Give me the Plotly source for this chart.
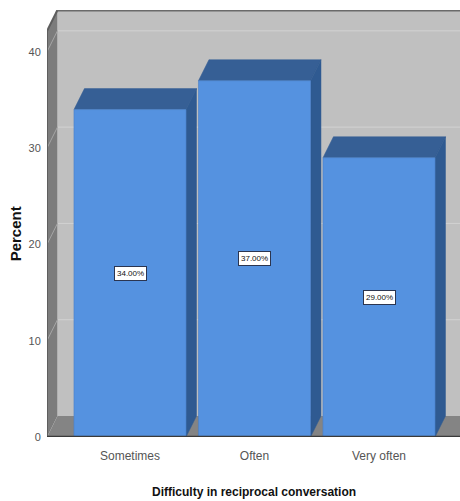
import plotly.graph_objects as go

# ---- data -------------------------------------------------------------
categories = ["Sometimes", "Often", "Very often"]
percent = [34.0, 37.0, 29.0]
y_ticks = [0, 10, 20, 30, 40]

x_title = "Difficulty in reciprocal conversation"
y_title = "Percent"

# ---- 3-D box geometry (data units) -----------------------------------
BAR_W = 0.9          # bar width on the category axis
DX = 0.084           # depth shift along x
DY = 2.18            # depth shift along y
WALL_TOP = 42.16     # top of the left wall at the front edge
X0, X1 = -0.6667, 2.6506
Y1 = WALL_TOP + DY

# ---- colours ----------------------------------------------------------
FRONT = "#5592e0"
SIDE = "#2f5a91"
TOP = "#365f95"
BACK_WALL = "#c0c0c0"
LEFT_WALL = "#7c7c7c"
FLOOR = "#848484"
GRID = "#d2d2d2"
NARROW = "Liberation Sans Narrow, Arial Narrow, Liberation Sans, Arial"


def poly(points):
    return "M " + " L ".join(f"{x},{y}" for x, y in points) + " Z"


shapes = []
# back wall
shapes.append(dict(type="rect", x0=X0 + DX, x1=X1, y0=DY, y1=Y1,
                   fillcolor=BACK_WALL, line=dict(width=0), layer="below"))
# back-wall grid lines
for v in y_ticks[1:]:
    shapes.append(dict(type="line", x0=X0 + DX, x1=X1, y0=v + DY, y1=v + DY,
                       line=dict(color=GRID, width=1), layer="below"))
# left wall with its diagonal grid lines
shapes.append(dict(type="path",
                   path=poly([(X0, 0), (X0 + DX, DY), (X0 + DX, Y1), (X0, WALL_TOP)]),
                   fillcolor=LEFT_WALL, line=dict(width=0), layer="below"))
for v in y_ticks[1:]:
    shapes.append(dict(type="line", x0=X0, x1=X0 + DX, y0=v, y1=v + DY,
                       line=dict(color="#a6a6a6", width=1), layer="below"))
# left wall front edge and top edges
shapes.append(dict(type="line", x0=X0, x1=X0, y0=0, y1=WALL_TOP,
                   line=dict(color="#5e5e5e", width=2), layer="below"))
shapes.append(dict(type="line", x0=X0, x1=X0 + DX, y0=WALL_TOP, y1=Y1,
                   line=dict(color="#5e5e5e", width=2), layer="below"))
shapes.append(dict(type="line", x0=X0 + DX, x1=X1, y0=Y1, y1=Y1,
                   line=dict(color="#6a6a6a", width=3), layer="below"))
# floor
shapes.append(dict(type="path",
                   path=poly([(X0, 0), (X1, 0), (X1, DY), (X0 + DX, DY)]),
                   fillcolor=FLOOR, line=dict(width=0), layer="below"))

# top and side faces of each bar
for i, v in enumerate(percent):
    xl, xr = i - BAR_W / 2, i + BAR_W / 2
    shapes.append(dict(type="path",
                       path=poly([(xl, v), (xr, v), (xr + DX, v + DY), (xl + DX, v + DY)]),
                       fillcolor=TOP, line=dict(color=TOP, width=0.5), layer="below"))
    shapes.append(dict(type="path",
                       path=poly([(xr, 0), (xr + DX, DY), (xr + DX, v + DY), (xr, v)]),
                       fillcolor=SIDE, line=dict(color=SIDE, width=0.5), layer="below"))

# front floor edge
shapes.append(dict(type="line", x0=X0, x1=X1, y0=0, y1=0,
                   line=dict(color="#3a3a3a", width=2.5), layer="above"))

fig = go.Figure()
fig.add_trace(go.Bar(
    x=list(range(len(categories))), y=percent, width=BAR_W,
    marker=dict(color=FRONT, line=dict(color="#4a80c8", width=0.6)),
    hoverinfo="skip", showlegend=False,
))

annotations = []
for i, v in enumerate(percent):
    annotations.append(dict(
        x=i, y=v / 2, xref="x", yref="y", text=f"{v:.2f}%", showarrow=False,
        font=dict(family=NARROW, size=8, color="#111111"),
        bgcolor="white", bordercolor="#2b3550", borderwidth=1, borderpad=2,
    ))
annotations.append(dict(
    x=-0.076, y=0.476, xref="paper", yref="paper", text=f"<b>{y_title}</b>",
    textangle=-90, showarrow=False, xanchor="center", yanchor="middle",
    font=dict(family="Liberation Sans, Arial", size=15, color="#111111"),
))
annotations.append(dict(
    x=0.501, y=-0.1288, xref="paper", yref="paper", text=f"<b>{x_title}</b>",
    showarrow=False, xanchor="center", yanchor="middle",
    font=dict(family=NARROW, size=12, color="#111111"),
))

fig.update_layout(
    width=460, height=501,
    margin=dict(l=47, r=0, t=10, b=64, pad=0),
    paper_bgcolor="white", plot_bgcolor="white",
    shapes=shapes, annotations=annotations,
    xaxis=dict(range=[X0, X1], tickvals=list(range(len(categories))),
               ticktext=categories, showgrid=False, zeroline=False,
               showline=False, ticks="outside", ticklen=8,
               tickcolor="rgba(0,0,0,0)",
               tickfont=dict(family=NARROW, size=12, color="#555555"),
               fixedrange=True),
    yaxis=dict(range=[0, Y1], tickvals=y_ticks, showgrid=False,
               zeroline=False, showline=False, ticks="outside", ticklen=3,
               tickcolor="rgba(0,0,0,0)",
               tickfont=dict(family=NARROW, size=11, color="#555555"),
               fixedrange=True),
)

fig.write_html("out.html", config={"displayModeBar": False})
